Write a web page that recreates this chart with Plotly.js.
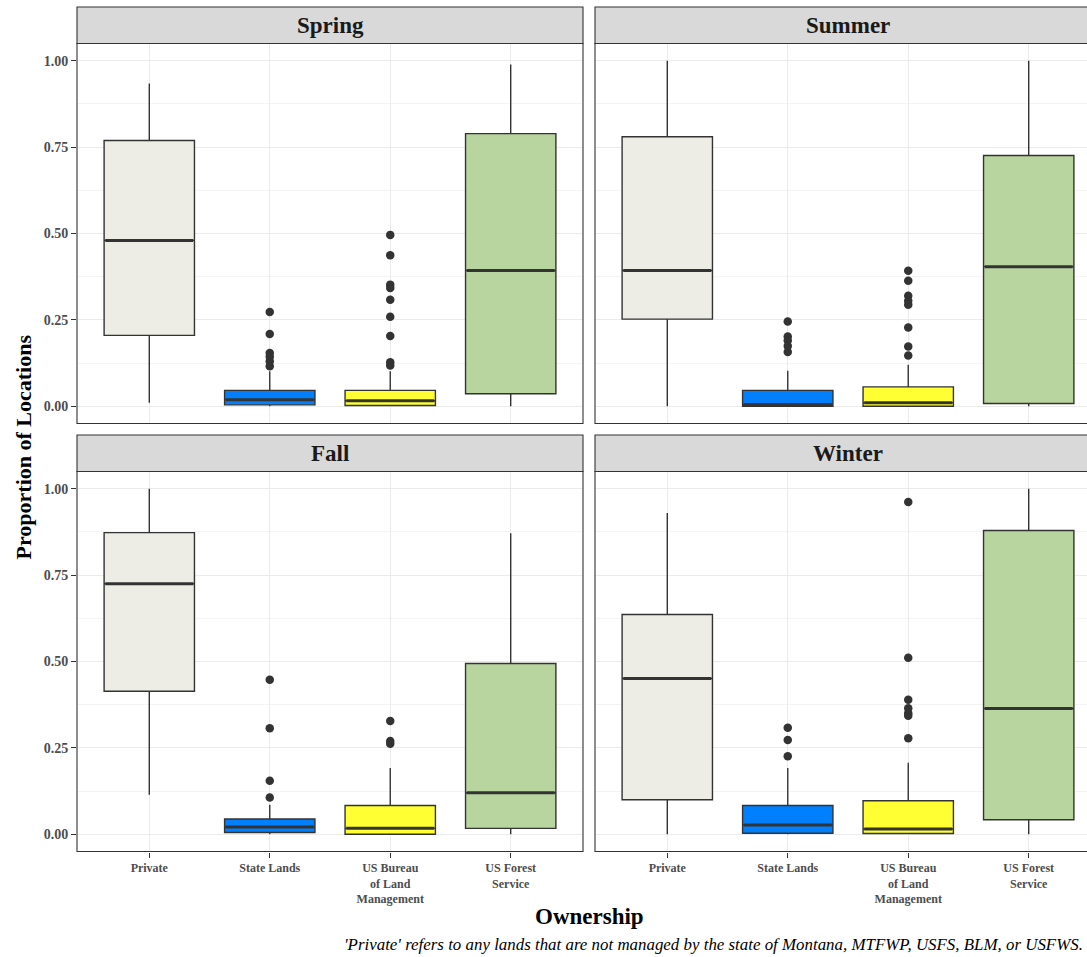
<!DOCTYPE html>
<html>
<head>
<meta charset="utf-8">
<script src="https://cdn.plot.ly/plotly-3.0.1.min.js"></script>
<style>
html, body { margin: 0; padding: 0; overflow: hidden; background: #fff; }
#chart { width: 1108px; height: 957px; }
</style>
</head>
<body>
<div id="chart"></div>
<script>
// ---------------- DATA ----------------
const categories = ["Private", "State Lands", "US Bureau of Land Management", "US Forest Service"];
const tickLabels = ["Private", "State Lands", "US Bureau<br>of Land<br>Management", "US Forest<br>Service"];
const seasons = ["Spring", "Summer", "Fall", "Winter"];
const yTickVals = [0, 0.25, 0.5, 0.75, 1.0];
const yTickText = ["0.00", "0.25", "0.50", "0.75", "1.00"];
const fillColors = ["#EDEDE5", "#0080FF", "#FFFF33", "#B8D5A0"];

const springLower  = [0.010, 0.000, 0.000, 0.000];
const springQ1     = [0.205, 0.004, 0.002, 0.036];
const springMedian = [0.480, 0.019, 0.016, 0.393];
const springQ3     = [0.769, 0.046, 0.046, 0.789];
const springUpper  = [0.934, 0.101, 0.101, 0.989];
const springOutliers = [[], [0.273, 0.209, 0.154, 0.143, 0.130, 0.116],
  [0.496, 0.437, 0.352, 0.342, 0.308, 0.259, 0.203, 0.127, 0.118], []];

const summerLower  = [0.000, 0.000, 0.000, 0.000];
const summerQ1     = [0.252, 0.000, 0.000, 0.008];
const summerMedian = [0.393, 0.005, 0.010, 0.404];
const summerQ3     = [0.780, 0.046, 0.056, 0.726];
const summerUpper  = [1.000, 0.103, 0.120, 1.000];
const summerOutliers = [[], [0.245, 0.202, 0.190, 0.174, 0.157],
  [0.392, 0.363, 0.320, 0.305, 0.294, 0.228, 0.173, 0.147], []];

const fallLower  = [0.114, 0.000, 0.000, 0.000];
const fallQ1     = [0.414, 0.005, 0.000, 0.017];
const fallMedian = [0.725, 0.021, 0.017, 0.120];
const fallQ3     = [0.873, 0.044, 0.083, 0.494];
const fallUpper  = [1.000, 0.085, 0.192, 0.871];
const fallOutliers = [[], [0.447, 0.307, 0.155, 0.106], [0.328, 0.270, 0.262], []];

const winterLower  = [0.000, 0.000, 0.000, 0.000];
const winterQ1     = [0.100, 0.003, 0.002, 0.042];
const winterMedian = [0.451, 0.027, 0.015, 0.364];
const winterQ3     = [0.636, 0.083, 0.097, 0.879];
const winterUpper  = [0.930, 0.192, 0.207, 1.000];
const winterOutliers = [[], [0.308, 0.273, 0.226],
  [0.962, 0.511, 0.389, 0.365, 0.350, 0.343, 0.278], []];

const seasonStats = [
  [springLower, springQ1, springMedian, springQ3, springUpper, springOutliers],
  [summerLower, summerQ1, summerMedian, summerQ3, summerUpper, summerOutliers],
  [fallLower, fallQ1, fallMedian, fallQ3, fallUpper, fallOutliers],
  [winterLower, winterQ1, winterMedian, winterQ3, winterUpper, winterOutliers]
];
const captionText = "'Private' refers to any lands that are not managed by the state of Montana, MTFWP, USFS, BLM, or USFWS.";

// ---------------- LAYOUT (pixels) ----------------
const W = 1108, H = 957;
const panelLeft = [77, 595], panelW = 506;
const panelTop = [43.5, 471.5], panelH = 380, stripH = 36.5;
const boxW = 0.75;
const FONT = "Liberation Serif, Times New Roman, serif";
const px2x = p => p / W;
const px2y = p => 1 - p / H;

const traces = [];
const shapes = [];
const annotations = [];
const layout = {
  width: W, height: H,
  margin: {l: 0, r: 0, t: 0, b: 0},
  paper_bgcolor: "#ffffff", plot_bgcolor: "#ffffff",
  showlegend: false, hovermode: false,
  font: {family: FONT}
};

seasons.forEach((season, s) => {
  const col = s % 2, row = Math.floor(s / 2);
  const ax = s === 0 ? "" : String(s + 1);
  const xa = "x" + ax, ya = "y" + ax;
  const [lo, q1, med, q3, up, outl] = seasonStats[s];

  layout["xaxis" + ax] = {
    domain: [px2x(panelLeft[col]), px2x(panelLeft[col] + panelW)],
    anchor: ya, range: [-0.6, 3.6],
    tickvals: [0, 1, 2, 3], ticktext: tickLabels,
    showticklabels: row === 1,
    ticks: row === 1 ? "outside" : "", ticklen: 5, tickwidth: 1.1, tickcolor: "#333333",
    tickfont: {family: FONT, size: 12, color: "#4D4D4D", weight: 700},
    showgrid: true, gridcolor: "#EBEBEB", gridwidth: 1.1,
    zeroline: false, showline: false, fixedrange: true
  };
  layout["yaxis" + ax] = {
    domain: [px2y(panelTop[row] + panelH), px2y(panelTop[row])],
    anchor: xa, range: [-0.05, 1.05],
    tickvals: yTickVals, ticktext: yTickText,
    showticklabels: col === 0,
    ticks: col === 0 ? "outside" : "", ticklen: 5, tickwidth: 1.1, tickcolor: "#333333",
    tickfont: {family: FONT, size: 14, color: "#4D4D4D", weight: 700},
    showgrid: true, gridcolor: "#EBEBEB", gridwidth: 1.1,
    minor: {dtick: 0.125, tick0: 0, showgrid: true, gridcolor: "#EBEBEB", gridwidth: 0.55},
    zeroline: false, showline: false, fixedrange: true
  };

  categories.forEach((cat, i) => {
    traces.push({
      type: "box", xaxis: xa, yaxis: ya,
      x: [i], q1: [q1[i]], median: [med[i]], q3: [q3[i]],
      lowerfence: [lo[i]], upperfence: [up[i]],
      width: boxW, whiskerwidth: 0, boxpoints: false,
      fillcolor: fillColors[i], line: {color: "#333333", width: 1.4},
      name: cat
    });
    // thicker median line (ggplot fatten)
    traces.push({
      type: "scatter", mode: "lines", xaxis: xa, yaxis: ya,
      x: [i - boxW / 2 + 0.01, i + boxW / 2 - 0.01], y: [med[i], med[i]],
      line: {color: "#333333", width: 3}, name: cat + " median"
    });
    if (outl[i].length) {
      traces.push({
        type: "scatter", mode: "markers", xaxis: xa, yaxis: ya,
        x: outl[i].map(() => i), y: outl[i],
        marker: {color: "#333333", size: 8.5, line: {width: 0}}, name: cat + " outliers"
      });
    }
  });

  // panel border
  shapes.push({
    type: "rect", xref: "paper", yref: "paper", layer: "above",
    x0: px2x(panelLeft[col]), x1: px2x(panelLeft[col] + panelW),
    y0: px2y(panelTop[row] + panelH), y1: px2y(panelTop[row]),
    line: {color: "#333333", width: 1.1}, fillcolor: "rgba(0,0,0,0)"
  });
  // strip
  shapes.push({
    type: "rect", xref: "paper", yref: "paper", layer: "above",
    x0: px2x(panelLeft[col]), x1: px2x(panelLeft[col] + panelW),
    y0: px2y(panelTop[row]), y1: px2y(panelTop[row] - stripH),
    line: {color: "#333333", width: 1.1}, fillcolor: "#D9D9D9"
  });
  annotations.push({
    xref: "paper", yref: "paper",
    x: px2x(panelLeft[col] + panelW / 2), y: px2y(panelTop[row] - stripH / 2),
    text: season, showarrow: false, xanchor: "center", yanchor: "middle",
    font: {family: FONT, size: 23, color: "#1A1A1A", weight: 700}
  });
});

annotations.push({
  xref: "paper", yref: "paper", x: px2x(23), y: px2y(panelTop[0] + (panelTop[1] + panelH - panelTop[0]) / 2),
  text: "Proportion of Locations", textangle: -90, showarrow: false,
  xanchor: "center", yanchor: "middle",
  font: {family: FONT, size: 22, color: "#000000", weight: 700}
});
annotations.push({
  xref: "paper", yref: "paper", x: px2x((panelLeft[0] + panelLeft[1] + panelW) / 2), y: px2y(916),
  text: "Ownership", showarrow: false, xanchor: "center", yanchor: "middle",
  font: {family: FONT, size: 23, color: "#000000", weight: 700}
});
annotations.push({
  xref: "paper", yref: "paper", x: px2x(1085), y: px2y(944),
  text: captionText, showarrow: false, xanchor: "right", yanchor: "middle",
  font: {family: FONT, size: 16.9, color: "#000000", style: "italic"}
});

layout.shapes = shapes;
layout.annotations = annotations;

Plotly.newPlot("chart", traces, layout, {staticPlot: true, responsive: false, displayModeBar: false});
</script>
</body>
</html>
